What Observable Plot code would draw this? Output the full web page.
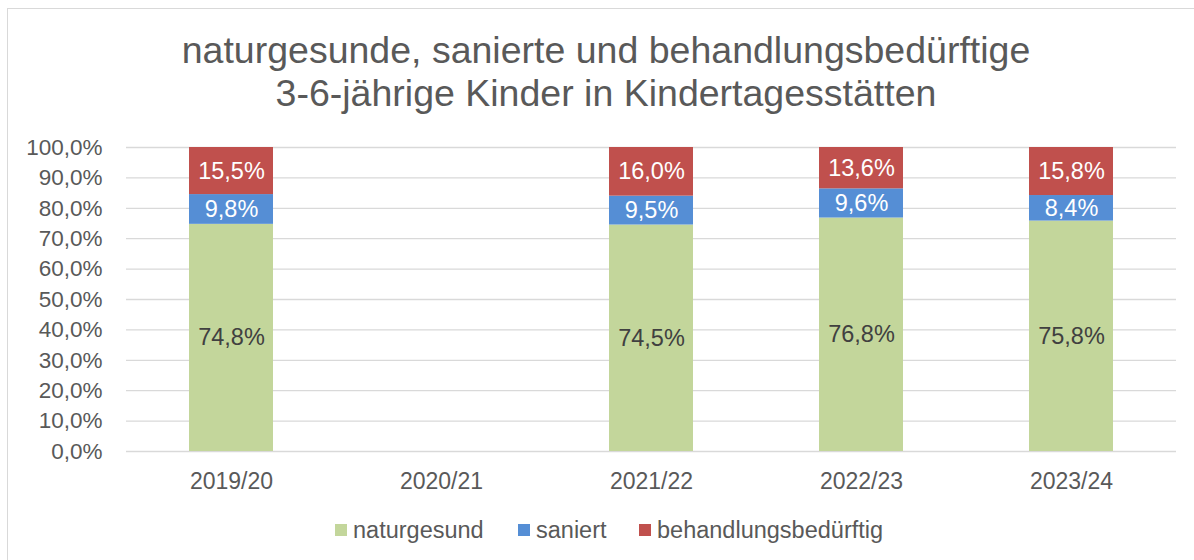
<!DOCTYPE html>
<html>
<head>
<meta charset="utf-8">
<script src="https://cdn.jsdelivr.net/npm/d3@7"></script>
<script src="https://cdn.jsdelivr.net/npm/@observablehq/plot@0.6"></script>
<style>
  html, body { margin: 0; padding: 0; background: #fff; }
  #wrap { position: relative; width: 1194px; height: 560px; overflow: hidden; font-family: "Liberation Sans", Arial, sans-serif; color: #595959; }
  #frame { position: absolute; left: 7px; top: 8px; width: 1300px; height: 700px; border: 1px solid #d9d9d9; box-sizing: border-box; }
  #title { position: absolute; left: 9px; width: 1194px; top: 29px; text-align: center; font-size: 37.5px; line-height: 43px; color: #595959; }
  #chart { position: absolute; left: 0; top: 120px; }
  #legend { position: absolute; top: 517px; left: 0; width: 1194px; height: 26px; }
  .item { position: absolute; top: 0; font-size: 23.5px; line-height: 26px; white-space: nowrap; color: #595959; }
  .sw { position: absolute; top: 7px; width: 12px; height: 12px; }
</style>
</head>
<body>
<div id="wrap">
  <div id="frame"></div>
  <div id="title">naturgesunde, sanierte und behandlungsbedürftige<br>3-6-jährige Kinder in Kindertagesstätten</div>
  <div id="chart"></div>
  <div id="legend"></div>
</div>
<script>
const years = ["2019/20", "2020/21", "2021/22", "2022/23", "2023/24"];
const categories = ["naturgesund", "saniert", "behandlungsbedürftig"];
const colors = ["#c3d69b", "#558ed5", "#c0504d"];
const naturgesund = [74.8, null, 74.5, 76.8, 75.8];
const saniert = [9.8, null, 9.5, 9.6, 8.4];
const behandlungsbeduerftig = [15.5, null, 16.0, 13.6, 15.8];
const yTicks = [0, 0.1, 0.2, 0.3, 0.4, 0.5, 0.6, 0.7, 0.8, 0.9, 1.0];

const series = [naturgesund, saniert, behandlungsbeduerftig];
const data = [];
years.forEach((year, i) => {
  categories.forEach((cat, j) => {
    const v = series[j][i];
    if (v != null) data.push({year, cat, value: v});
  });
});

const fmt = v => v.toFixed(1).replace(".", ",") + "%";
const font = "'Liberation Sans', Arial, sans-serif";

const chart = Plot.plot({
  width: 1194,
  height: 390,
  marginTop: 27,
  marginBottom: 59,
  marginLeft: 126,
  marginRight: 18,
  style: {fontFamily: font, fontSize: "22px", color: "#595959", background: "transparent", overflow: "visible"},
  x: {domain: years, paddingInner: 0.6, paddingOuter: 0.3, label: null},
  y: {domain: [0, 1], label: null},
  color: {domain: categories, range: colors},
  marks: [
    Plot.gridY(yTicks, {stroke: "#d9d9d9", strokeOpacity: 1, strokeWidth: 1.3}),
    Plot.barY(data, Plot.stackY({x: "year", y: "value", fill: "cat", offset: "normalize"})),
    Plot.text(data, Plot.stackY({
      x: "year", y: "value", offset: "normalize",
      text: d => d.cat === "naturgesund" ? fmt(d.value) : null,
      fill: "#404040", fontSize: 23.5
    })),
    Plot.text(data, Plot.stackY({
      x: "year", y: "value", offset: "normalize",
      text: d => d.cat !== "naturgesund" ? fmt(d.value) : null,
      fill: "white", fontSize: 23.5
    })),
    Plot.axisY({ticks: yTicks, tickSize: 0, tickPadding: 24, tickFormat: d => fmt(d * 100), fontSize: 22.5, fill: "#595959"}),
    Plot.axisX({tickSize: 0, tickPadding: 21, fontSize: 23, fill: "#595959"})
  ]
});
document.getElementById("chart").appendChild(chart);

// legend
const legend = document.getElementById("legend");
const legendX = [335, 518, 639];
categories.forEach((cat, i) => {
  const item = document.createElement("div");
  item.className = "item";
  item.style.left = legendX[i] + "px";
  const sw = document.createElement("span");
  sw.className = "sw";
  sw.style.left = "0px";
  sw.style.background = colors[i];
  const tx = document.createElement("span");
  tx.textContent = cat;
  tx.style.marginLeft = "18px";
  item.appendChild(sw);
  item.appendChild(tx);
  legend.appendChild(item);
});
</script>
</body>
</html>
